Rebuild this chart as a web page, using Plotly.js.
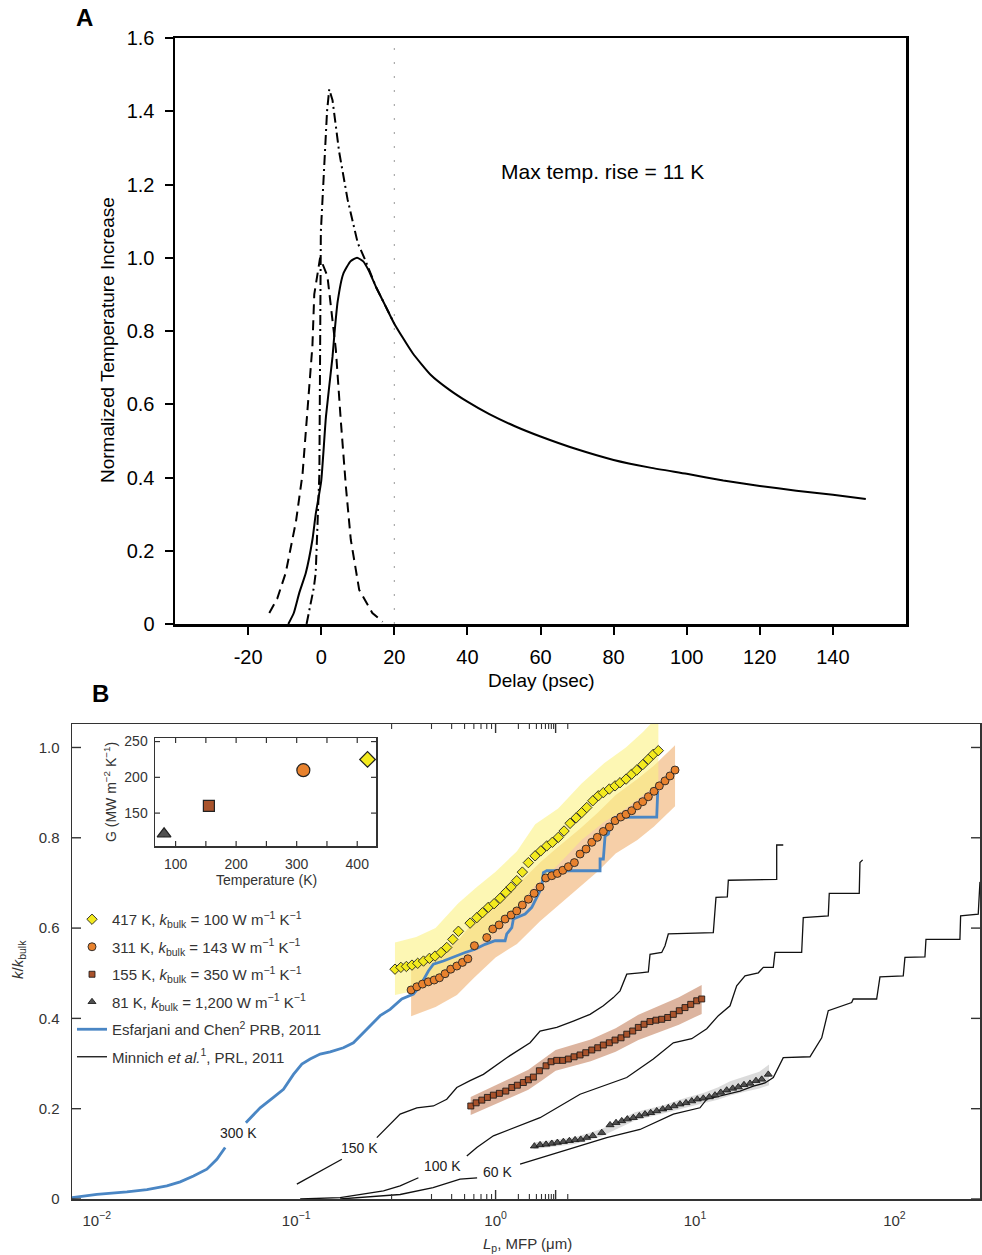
<!DOCTYPE html>
<html><head><meta charset="utf-8">
<script src="https://cdn.plot.ly/plotly-3.0.1.min.js"></script>
<style>html,body{margin:0;padding:0;background:#fff}#chart{width:982px;height:1255px}</style>
</head><body><div id="chart"></div>
<script>
// ---------- Panel A data ----------
const delaySolid = [-9,-7.5,-6,-4.2,-2.4,-1.5,0,1.3,3.1,3.6,4.5,6,8,9.8,11.5,13,15,17.5,20,25,30,35,40,46,53,60,70,80,90,100,110,120,130,140,149];
const tempSolid  = [0,0.03,0.085,0.14,0.23,0.30,0.39,0.566,0.73,0.79,0.88,0.955,0.99,1.0,0.99,0.965,0.92,0.87,0.82,0.74,0.68,0.64,0.607,0.573,0.54,0.512,0.477,0.448,0.427,0.41,0.392,0.377,0.364,0.353,0.341];
const delayDashDot = [-4,-3,-2,-1.5,-0.5,-0.1,0.8,1.6,2.2,3.1,4.9,7.2,10,12,15,20];
const tempDashDot  = [0,0.05,0.1,0.14,0.41,1.07,1.25,1.40,1.46,1.43,1.29,1.16,1.04,0.995,0.92,0.82];
const delayDashed = [-14.2,-12,-9.7,-6.9,-5.1,-3.75,-2.4,-1.9,-0.3,1.7,4,5.4,6.8,8.1,10.4,14,16.8];
const tempDashed  = [0.03,0.07,0.14,0.28,0.41,0.59,0.76,0.90,1.0,0.95,0.75,0.55,0.37,0.23,0.093,0.03,0.006];
const delayTicks = [-20,0,20,40,60,80,100,120,140];
const delayTickText = ['-20','0','20','40','60','80','100','120','140'];
const tempTicks = [0,0.2,0.4,0.6,0.8,1.0,1.2,1.4,1.6];
const tempTickText = ['0','0.2','0.4','0.6','0.8','1.0','1.2','1.4','1.6'];

// ---------- Panel B data ----------
const mfp417 = [0.313,0.335,0.357,0.381,0.407,0.435,0.466,0.497,0.533,0.569,0.610,0.651,0.745,0.805,0.859,0.920,0.983,1.053,1.125,1.196,1.277,1.362,1.460,1.578,1.685,1.806,1.927,2.064,2.205,2.363,2.533,2.705,2.865,3.072,3.275,3.470,3.719,3.972,4.208,4.510,4.816,5.102,5.469,5.833,6.180,6.547];
const k417 = [0.509,0.513,0.515,0.518,0.522,0.527,0.533,0.538,0.546,0.557,0.575,0.593,0.611,0.623,0.634,0.646,0.654,0.666,0.679,0.691,0.705,0.724,0.745,0.760,0.771,0.782,0.790,0.801,0.815,0.832,0.844,0.856,0.867,0.882,0.893,0.900,0.908,0.915,0.922,0.930,0.941,0.950,0.962,0.974,0.985,0.993];
const mfp311 = [0.377,0.403,0.430,0.460,0.492,0.523,0.558,0.596,0.639,0.682,0.726,0.783,0.903,0.968,1.041,1.116,1.196,1.277,1.362,1.460,1.560,1.671,1.785,1.914,2.041,2.172,2.317,2.484,2.652,2.842,3.036,3.238,3.470,3.719,3.972,4.242,4.510,4.816,5.138,5.469,5.833,6.230,6.623,7.073,7.493,7.939];
const k311 = [0.463,0.470,0.476,0.481,0.485,0.490,0.499,0.509,0.516,0.524,0.532,0.561,0.579,0.598,0.607,0.620,0.629,0.638,0.651,0.664,0.677,0.691,0.711,0.716,0.721,0.728,0.736,0.745,0.764,0.775,0.790,0.801,0.814,0.824,0.838,0.846,0.852,0.860,0.871,0.880,0.891,0.903,0.915,0.926,0.937,0.950];
const mfp155 = [0.751,0.799,0.853,0.910,0.975,1.045,1.125,1.206,1.286,1.378,1.460,1.547,1.658,1.791,1.898,2.027,2.172,2.317,2.475,2.652,2.832,3.036,3.253,3.470,3.719,3.972,4.257,4.547,4.872,5.197,5.552,5.949,6.375,6.808,7.297,7.785,8.342,8.910,9.517,10.198,10.804];
const k155 = [0.206,0.213,0.219,0.225,0.230,0.234,0.239,0.247,0.252,0.258,0.264,0.270,0.284,0.295,0.304,0.307,0.307,0.310,0.315,0.319,0.324,0.330,0.335,0.341,0.346,0.352,0.357,0.365,0.372,0.380,0.387,0.393,0.396,0.398,0.402,0.409,0.417,0.424,0.431,0.439,0.443];
const mfp81 = [1.565,1.671,1.791,1.914,2.041,2.187,2.344,2.504,2.674,2.865,3.072,3.407,3.749,4.018,4.291,4.578,4.906,5.258,5.616,5.997,6.427,6.888,7.347,7.848,8.410,9.013,9.627,10.269,11.006,11.796,12.597,13.453,14.418,15.453,16.485,17.604,18.867,20.215,21.598,23.309];
const k81 = [0.117,0.120,0.121,0.123,0.125,0.127,0.129,0.131,0.132,0.136,0.140,0.147,0.164,0.169,0.173,0.177,0.180,0.184,0.188,0.191,0.195,0.199,0.202,0.206,0.210,0.213,0.217,0.221,0.223,0.226,0.230,0.236,0.241,0.245,0.248,0.253,0.256,0.262,0.265,0.276];

// uncertainty bands
const band417x = [0.313,0.4,0.5,0.65,0.8,1.0,1.28,1.58,2.06,2.7,3.5,4.5,5.5,6.55];
const band417lo = [0.452,0.462,0.478,0.530,0.560,0.595,0.640,0.695,0.740,0.795,0.835,0.865,0.895,0.920];
const band417hi = [0.568,0.580,0.600,0.655,0.690,0.725,0.770,0.830,0.865,0.920,0.965,1.000,1.035,1.070];
const band311x = [0.377,0.5,0.64,0.78,1.0,1.28,1.67,2.0,2.65,3.24,4.0,5.14,6.23,7.94];
const band311lo = [0.405,0.425,0.452,0.490,0.535,0.565,0.615,0.645,0.690,0.725,0.765,0.795,0.825,0.870];
const band311hi = [0.515,0.540,0.570,0.615,0.660,0.695,0.745,0.775,0.820,0.855,0.895,0.930,0.960,1.005];
const band155x = [0.75,1.0,1.46,1.7,2.0,3.0,4.0,5.2,6.4,8.3,10.8];
const band155lo = [0.186,0.210,0.242,0.262,0.284,0.305,0.326,0.352,0.367,0.386,0.410];
const band155hi = [0.226,0.252,0.286,0.308,0.330,0.353,0.378,0.408,0.425,0.447,0.474];
const band81x = [1.55,2.5,3.4,5,7,9,11,13,15,18,21,23.5];
const band81lo = [0.110,0.122,0.139,0.174,0.190,0.203,0.212,0.220,0.229,0.238,0.245,0.252];
const band81hi = [0.125,0.137,0.155,0.192,0.208,0.224,0.235,0.247,0.261,0.272,0.282,0.298];

// Esfarjani and Chen, 300 K
const mfpEC = [0.00751,0.01002,0.01417,0.01785,0.02248,0.02621,0.03056,0.03567,0.04003,0.04406,null,0.05596,0.06601,0.07694,0.08637,0.09693,0.1068,0.1175,0.1319,0.1481,0.1726,0.1937,0.2092,0.2349,0.2637,0.2959,0.3386,0.3872,0.4183,0.4603,0.4876,0.5473,0.6031,0.7035,0.7893,0.8858,0.9942,1.1159,1.1380,1.2057,1.2282,1.4058,1.5188,1.5777,1.6392,1.7042,1.7360,1.8056,3.3407,3.3407,3.4703,3.5390,3.6765,3.7493,3.9719,6.4269,6.5015];
const kEC = [0.003,0.010,0.016,0.021,0.029,0.038,0.051,0.066,0.088,0.114,null,0.169,0.202,0.225,0.243,0.276,0.299,0.310,0.321,0.326,0.335,0.346,0.361,0.383,0.406,0.420,0.443,0.454,0.472,0.505,0.520,0.527,0.535,0.546,0.553,0.564,0.572,0.572,0.587,0.601,0.620,0.631,0.646,0.660,0.675,0.690,0.723,0.727,0.727,0.753,0.753,0.804,0.808,0.824,0.845,0.846,0.904];

// Minnich et al. curves
const mfp150 = [0.1008,0.1319,0.1695,null,0.2538,0.3322,0.4027,0.4876,0.5691,0.6389,0.7449,0.8687,1.138,1.489,1.671,2.027,2.455,2.976,3.470,3.895,4.208,4.547,5.300,5.833,5.949,6.808,7.073,7.347,12.35,12.74,14.52,14.69,25.68,25.68,27.70];
const k150 = [0.033,0.062,0.088,null,0.136,0.188,0.202,0.206,0.221,0.247,0.262,0.276,0.313,0.346,0.372,0.380,0.394,0.409,0.428,0.446,0.461,0.498,0.501,0.503,0.542,0.546,0.561,0.587,0.590,0.668,0.669,0.706,0.708,0.784,0.784];
const mfp100 = [0.1047,0.1662,0.2740,0.3322,0.4102,null,0.7172,0.8050,0.9749,1.671,2.652,4.547,6.180,7.785,9.627,11.45,13.09,14.98,16.18,17.81,20.77,22.00,24.69,25.18,34.26,34.90,46.58,47.12,66.61,67.15,69.27];
const k100 = [0,0.003,0.018,0.029,0.047,null,0.095,0.114,0.140,0.180,0.232,0.269,0.310,0.346,0.355,0.377,0.406,0.428,0.472,0.494,0.501,0.513,0.513,0.546,0.546,0.623,0.627,0.677,0.677,0.745,0.751];
const mfp60 = [0.1662,0.3322,0.4860,0.6637,0.8078,null,1.327,2.455,3.609,5.300,7.785,10.59,11.45,16.81,19.61,22.43,24.69,27.70,37.71,43.18,46.58,61.02,62.15,81.43,82.95,84.60,110.7,112.9,142.2,143.9,213.0,214.7,263.1,268.3,301.1];
const k60 = [0,0.010,0.025,0.044,0.047,null,0.077,0.114,0.136,0.154,0.188,0.202,0.221,0.239,0.250,0.257,0.269,0.313,0.315,0.357,0.417,0.435,0.443,0.443,0.465,0.492,0.494,0.535,0.536,0.575,0.575,0.627,0.631,0.701,0.705];

const mfpTicks = [0.01,0.1,1,10,100];
const mfpTickText = ['10<sup>−2</sup>','10<sup>−1</sup>','10<sup>0</sup>','10<sup>1</sup>','10<sup>2</sup>'];
const kTicks = [0,0.2,0.4,0.6,0.8,1.0];
const kTickText = ['0','0.2','0.4','0.6','0.8','1.0'];

// Inset: interface conductance vs temperature
const insetT = [81,155,311,417];
const insetG = [121,160,210,225];
const insetErr = [4,8,9,8];
const insetTTicks = [100,200,300,400];
const insetTMinor = [150,250,350];
const insetGTicks = [150,200,250];

const legendNames = [
  '417 K, <i>k</i><sub>bulk</sub> = 100 W m<sup>−1</sup> K<sup>−1</sup>',
  '311 K, <i>k</i><sub>bulk</sub> = 143 W m<sup>−1</sup> K<sup>−1</sup>',
  '155 K, <i>k</i><sub>bulk</sub> = 350 W m<sup>−1</sup> K<sup>−1</sup>',
  '81 K, <i>k</i><sub>bulk</sub> = 1,200 W m<sup>−1</sup> K<sup>−1</sup>',
  'Esfarjani and Chen<sup>2</sup> PRB, 2011',
  'Minnich <i>et al.</i><sup>1</sup>, PRL, 2011'
];

// ---------- build ----------
const W = 982, H = 1255;
const FONT = 'Liberation Sans, Arial, Helvetica, sans-serif';
const colYellow = '#f3ea1e', colOrange = '#e8822e', colBrown = '#a9532c', colTri = '#505050', colBlue = '#4a86c4';

// panel geometry (pixels)
const B_L = 72, B_R = 980, B_T = 724, B_B = 1199;
const I_L = 155, I_R = 376, I_T = 738, I_B = 846;
const X2_RANGE = [-2.124, 2.429];

function band(x, lo, hi, color) {
  return {x: x.concat(x.slice().reverse()), y: lo.concat(hi.slice().reverse()),
    xaxis: 'x2', yaxis: 'y2', type: 'scatter', mode: 'lines', fill: 'toself',
    fillcolor: color, line: {width: 0}, showlegend: false, hoverinfo: 'skip'};
}

const traces = [
  // Panel A
  {x: delayDashed, y: tempDashed, type: 'scatter', mode: 'lines', line: {color: '#000', width: 2, dash: '10px,6px'}, showlegend: false, xaxis: 'x', yaxis: 'y'},
  {x: delayDashDot, y: tempDashDot, type: 'scatter', mode: 'lines', line: {color: '#000', width: 2, dash: '10px,4px,2px,4px'}, showlegend: false, xaxis: 'x', yaxis: 'y'},
  {x: delaySolid, y: tempSolid, type: 'scatter', mode: 'lines', line: {color: '#000', width: 2, shape: 'spline', smoothing: 0.5}, showlegend: false, xaxis: 'x', yaxis: 'y'},
  // Panel B bands
  band(band311x, band311lo, band311hi, 'rgba(240,175,110,0.6)'),
  band(band417x, band417lo, band417hi, 'rgba(252,242,130,0.6)'),
  band(band155x, band155lo, band155hi, 'rgba(196,130,95,0.6)'),
  band(band81x, band81lo, band81hi, 'rgba(175,175,175,0.45)'),
  // Minnich curves
  {x: mfp150, y: k150, type: 'scatter', mode: 'lines', line: {color: '#111', width: 1.3}, name: legendNames[5], legendgroup: 'g6', legendrank: 6, xaxis: 'x2', yaxis: 'y2'},
  {x: mfp100, y: k100, type: 'scatter', mode: 'lines', line: {color: '#111', width: 1.3}, showlegend: false, xaxis: 'x2', yaxis: 'y2'},
  {x: mfp60, y: k60, type: 'scatter', mode: 'lines', line: {color: '#111', width: 1.3}, showlegend: false, xaxis: 'x2', yaxis: 'y2'},
  // Esfarjani & Chen
  {x: mfpEC, y: kEC, type: 'scatter', mode: 'lines', line: {color: colBlue, width: 2.8}, name: legendNames[4], legendgroup: 'g5', legendrank: 5, xaxis: 'x2', yaxis: 'y2'},
  // markers
  {x: mfp81, y: k81, type: 'scatter', mode: 'markers', marker: {symbol: 'triangle-up', size: 7, color: colTri, line: {color: '#111', width: 0.8}}, name: legendNames[3], legendgroup: 'g4', legendrank: 4, xaxis: 'x2', yaxis: 'y2'},
  {x: mfp155, y: k155, type: 'scatter', mode: 'markers', marker: {symbol: 'square', size: 6, color: colBrown, line: {color: '#111', width: 0.8}}, name: legendNames[2], legendgroup: 'g3', legendrank: 3, xaxis: 'x2', yaxis: 'y2'},
  {x: mfp311, y: k311, type: 'scatter', mode: 'markers', marker: {symbol: 'circle', size: 8, color: colOrange, line: {color: '#222', width: 0.9}}, name: legendNames[1], legendgroup: 'g2', legendrank: 2, xaxis: 'x2', yaxis: 'y2'},
  {x: mfp417, y: k417, type: 'scatter', mode: 'markers', marker: {symbol: 'diamond', size: 8, color: colYellow, line: {color: '#222', width: 0.9}}, name: legendNames[0], legendgroup: 'g1', legendrank: 1, xaxis: 'x2', yaxis: 'y2'}
];
// inset points
const insetSym = ['triangle-up','square','circle','diamond'];
const insetCol = [colTri, colBrown, colOrange, colYellow];
const insetErrCol = ['#555', '#e06a3a', '#e8822e', '#333'];
const insetSize = [12, 11, 13, 12];
for (let i = 0; i < insetT.length; i++) {
  traces.push({x: [insetT[i]], y: [insetG[i]], type: 'scatter', mode: 'markers',
    marker: {symbol: insetSym[i], size: insetSize[i], color: insetCol[i], line: {color: '#222', width: 1.2}},
    error_y: {type: 'data', array: [insetErr[i]], color: insetErrCol[i], thickness: 1.5, width: 0},
    showlegend: false, xaxis: 'x3', yaxis: 'y3'});
}

const dx = p => p / W, dy = p => 1 - p / H;
function ann(text, x, y, opts) {
  return Object.assign({text: text, x: dx(x), y: dy(y), xref: 'paper', yref: 'paper', showarrow: false,
    xanchor: 'center', yanchor: 'middle', font: {family: FONT, size: 15, color: '#333'}}, opts || {});
}

// tick marks for panel B and the inset (inside ticks, mirrored on all sides)
const shapes = [
  {type: 'line', xref: 'x', yref: 'y', x0: 20, x1: 20, y0: 0, y1: 1.6, line: {color: '#999', width: 1, dash: '2px,12px'}}
];
function xTick(xref, yref, xv, lenFrac, w) {
  shapes.push({type: 'line', xref: xref, yref: yref + ' domain', x0: xv, x1: xv, y0: 0, y1: lenFrac, line: {color: '#333', width: w}});
  shapes.push({type: 'line', xref: xref, yref: yref + ' domain', x0: xv, x1: xv, y0: 1, y1: 1 - lenFrac, line: {color: '#333', width: w}});
}
function yTick(xref, yref, yv, lenFrac, w) {
  shapes.push({type: 'line', xref: xref + ' domain', yref: yref, x0: 0, x1: lenFrac, y0: yv, y1: yv, line: {color: '#333', width: w}});
  shapes.push({type: 'line', xref: xref + ' domain', yref: yref, x0: 1, x1: 1 - lenFrac, y0: yv, y1: yv, line: {color: '#333', width: w}});
}
const bH = B_B - B_T, bW = B_R - B_L;
mfpTicks.forEach(v => { const lv = Math.log10(v); if (lv >= X2_RANGE[0] && lv <= X2_RANGE[1]) xTick('x2', 'y2', lv, 9 / bH, 1.4); });
mfpTicks.forEach(v => {
  for (let m = 2; m <= 9; m++) { const lv = Math.log10(m * v); if (lv >= X2_RANGE[0] && lv <= X2_RANGE[1]) xTick('x2', 'y2', lv, 5 / bH, 1.1); }
});
[0.001].forEach(v => { for (let m = 2; m <= 9; m++) { const lv = Math.log10(m * v); if (lv >= X2_RANGE[0]) xTick('x2', 'y2', lv, 5 / bH, 1.1); } });
kTicks.forEach(v => yTick('x2', 'y2', v, 9 / bW, 1.4));
const iH = I_B - I_T, iW = I_R - I_L;
insetTTicks.concat(insetTMinor).forEach(v => xTick('x3', 'y3', v, 5 / iH, 1.2));
insetGTicks.forEach(v => yTick('x3', 'y3', v, 5 / iW, 1.2));

const layout = {
  width: W, height: H, margin: {l: 0, r: 0, t: 0, b: 0, pad: 0},
  paper_bgcolor: '#fff', plot_bgcolor: 'rgba(0,0,0,0)',
  font: {family: FONT, color: '#000'},
  showlegend: true,
  legend: {x: dx(72), y: dy(903), xanchor: 'left', yanchor: 'top', bgcolor: 'rgba(0,0,0,0)',
    font: {family: FONT, size: 15, color: '#333'}, traceorder: 'grouped', tracegroupgap: 5, itemwidth: 30},
  xaxis: {domain: [dx(175), dx(906)], range: [-40, 160], anchor: 'y', tickmode: 'array', tickvals: delayTicks, ticktext: delayTickText,
    ticks: 'outside', ticklen: 8, tickwidth: 2, tickcolor: '#000', showline: true, linecolor: '#000', linewidth: 2.5, mirror: true,
    showgrid: false, zeroline: false, tickfont: {size: 20, color: '#000', family: FONT}, ticklabelstandoff: 5},
  yaxis: {domain: [dy(624), dy(38)], range: [0, 1.6], anchor: 'x', tickmode: 'array', tickvals: tempTicks, ticktext: tempTickText,
    ticks: 'outside', ticklen: 8, tickwidth: 2, tickcolor: '#000', showline: true, linecolor: '#000', linewidth: 2.5, mirror: true,
    showgrid: false, zeroline: false, tickfont: {size: 20, color: '#000', family: FONT}, ticklabelstandoff: 6},
  xaxis2: {type: 'log', domain: [dx(B_L), dx(B_R)], range: X2_RANGE, anchor: 'y2', tickmode: 'array', tickvals: mfpTicks, ticktext: mfpTickText,
    ticks: '', showline: true, linecolor: '#333', linewidth: 1.5, mirror: true,
    showgrid: false, zeroline: false, tickfont: {size: 15, color: '#333', family: FONT}, ticklabelstandoff: 7},
  yaxis2: {domain: [dy(B_B), dy(B_T)], range: [0, 1.052], anchor: 'x2', tickmode: 'array', tickvals: kTicks, ticktext: kTickText,
    ticks: '', showline: true, linecolor: '#333', linewidth: 1.5, mirror: true,
    showgrid: false, zeroline: false, tickfont: {size: 15, color: '#333', family: FONT}, ticklabelstandoff: 8},
  xaxis3: {domain: [dx(I_L), dx(I_R)], range: [66, 431], anchor: 'y3', tickmode: 'array', tickvals: insetTTicks,
    ticks: '', showline: true, linecolor: '#333', linewidth: 1.5, mirror: true,
    showgrid: false, zeroline: false, tickfont: {size: 14, color: '#333', family: FONT}, ticklabelstandoff: 5},
  yaxis3: {domain: [dy(I_B), dy(I_T)], range: [104, 255], anchor: 'x3', tickmode: 'array', tickvals: insetGTicks,
    ticks: '', showline: true, linecolor: '#333', linewidth: 1.5, mirror: true,
    showgrid: false, zeroline: false, tickfont: {size: 14, color: '#333', family: FONT}, ticklabelstandoff: 3},
  shapes: shapes,
  annotations: [
    ann('<b>A</b>', 84, 17, {font: {family: FONT, size: 24, color: '#000'}}),
    ann('<b>B</b>', 100, 693, {font: {family: FONT, size: 24, color: '#000'}}),
    ann('Normalized Temperature Increase', 107, 340, {textangle: -90, font: {family: FONT, size: 19, color: '#000'}}),
    ann('Delay (psec)', 541, 680, {font: {family: FONT, size: 19, color: '#000'}}),
    ann('Max temp. rise = 11 K', 499, 171, {xanchor: 'left', font: {family: FONT, size: 21, color: '#000'}}),
    ann('<i>k</i>/<i>k</i><sub>bulk</sub>', 18, 960, {textangle: -90}),
    ann('<i>L</i><sub>p</sub>, MFP (μm)', 527, 1244),
    ann('G (MW m<sup>−2</sup> K<sup>−1</sup>)', 110, 792, {textangle: -90, font: {family: FONT, size: 14, color: '#333'}}),
    ann('Temperature (K)', 266, 880, {font: {family: FONT, size: 14, color: '#333'}}),
    ann('300 K', 238, 1133, {font: {family: FONT, size: 14, color: '#222'}}),
    ann('150 K', 359, 1148, {font: {family: FONT, size: 14, color: '#222'}}),
    ann('100 K', 442, 1166, {font: {family: FONT, size: 14, color: '#222'}}),
    ann('60 K', 497, 1172, {font: {family: FONT, size: 14, color: '#222'}})
  ]
};

Plotly.newPlot('chart', traces, layout, {staticPlot: true, displayModeBar: false});
</script>
</body></html>
